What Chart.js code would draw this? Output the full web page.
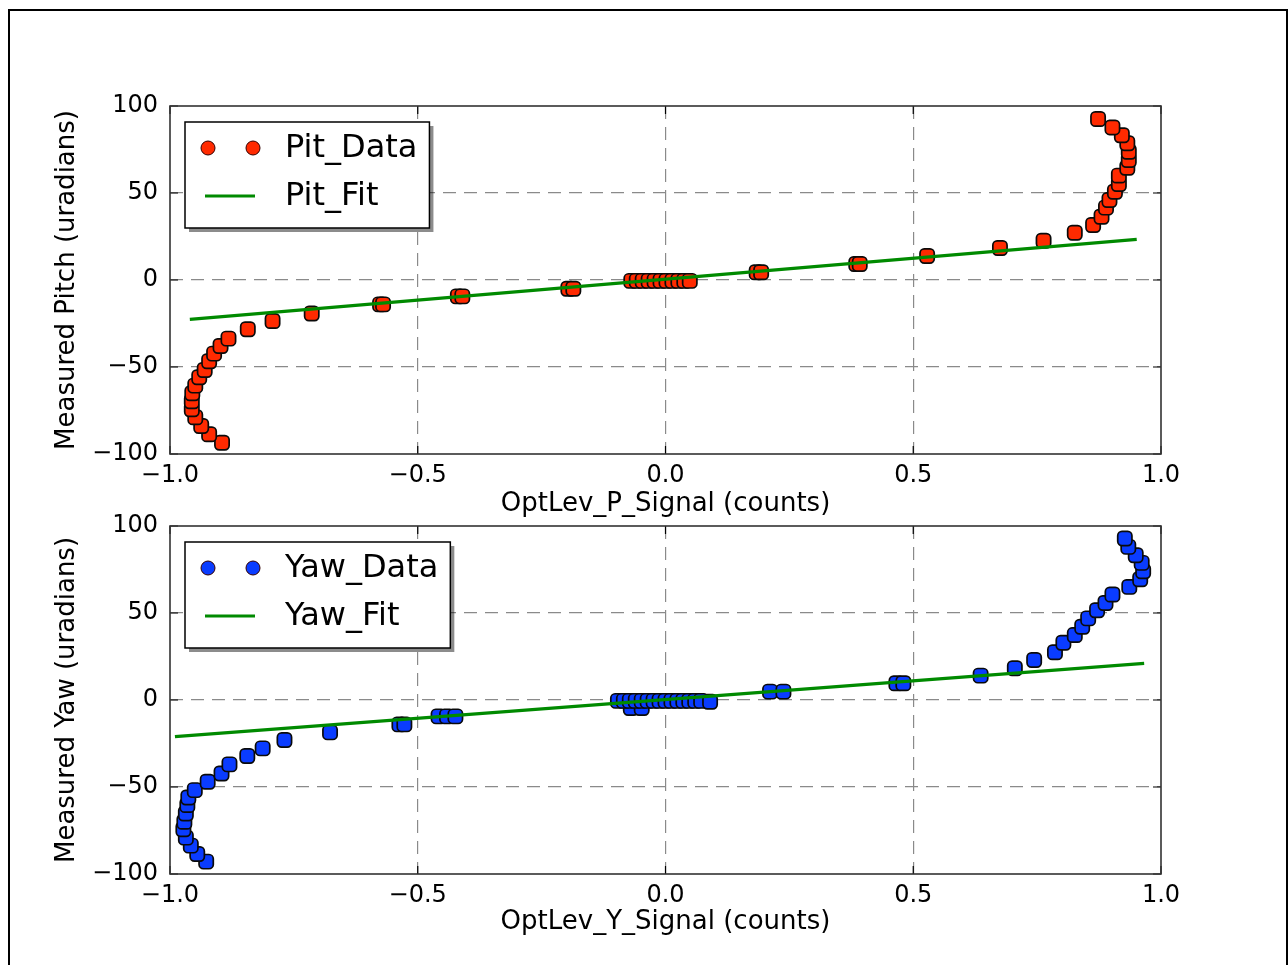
<!DOCTYPE html>
<html>
<head>
<meta charset="utf-8">
<script src="https://cdn.jsdelivr.net/npm/chart.js@4.4.1/dist/chart.umd.min.js"></script>
<style>
  html, body { margin: 0; padding: 0; background: #fff; width: 1288px; height: 965px; overflow: hidden; }
  #frame { position: absolute; left: 8px; top: 9px; width: 1276px; height: 1000px; border: 2px solid #000; }
  canvas { position: absolute; left: 0; }
  #c1 { top: 0px; }
  #c2 { top: 460px; }
</style>
</head>
<body>
<div id="frame"></div>
<canvas id="c1" width="1288" height="520"></canvas>
<canvas id="c2" width="1288" height="505"></canvas>
<script>
// ---------- data ----------
const pitX = [-0.895, -0.921, -0.937, -0.949, -0.956, -0.956, -0.955, -0.949, -0.941, -0.930, -0.921, -0.911, -0.898, -0.882, -0.843, -0.793, -0.714, -0.576, -0.570, -0.419, -0.410, -0.196, -0.186,
  -0.069, -0.058, -0.046, -0.034, -0.022, -0.010, 0.002, 0.014, 0.026, 0.038, 0.049,
  0.184, 0.193, 0.385, 0.392, 0.528, 0.675, 0.763, 0.826, 0.863, 0.880, 0.889, 0.896, 0.907, 0.915, 0.915, 0.932, 0.935, 0.935, 0.932, 0.921, 0.902, 0.873];
const pitY = [-93.5, -88.7, -83.9, -78.9, -74.3, -69.7, -65.1, -60.7, -55.9, -51.7, -46.7, -42.3, -37.9, -33.7, -28.3, -23.6, -19.2, -14.0, -14.0, -9.4, -9.4, -5.0, -5.0,
  -0.5, -0.5, -0.5, -0.5, -0.5, -0.5, -0.5, -0.5, -0.5, -0.5, -0.5,
  4.4, 4.4, 9.2, 9.2, 13.8, 18.4, 22.6, 27.2, 31.6, 36.4, 41.6, 46.0, 50.7, 55.2, 60.0, 64.5, 69.0, 73.7, 78.6, 83.2, 87.7, 92.5];

const yawX = [-0.927, -0.945, -0.958, -0.968, -0.973, -0.971, -0.968, -0.965, -0.963, -0.950, -0.924, -0.896, -0.880, -0.844, -0.813, -0.769, -0.677, -0.537, -0.527, -0.458, -0.441, -0.424,
  -0.070, -0.048,
  -0.096, -0.084, -0.072, -0.060, -0.048, -0.036, -0.024, -0.012, 0.000, 0.012, 0.024, 0.036, 0.048, 0.060, 0.072, 0.090,
  0.211, 0.238, 0.466, 0.480, 0.636, 0.705, 0.744, 0.786, 0.803, 0.826, 0.841, 0.853, 0.871, 0.888, 0.902, 0.936, 0.958, 0.964, 0.961, 0.949, 0.934, 0.927];
const yawY = [-92.9, -88.5, -83.7, -79.1, -74.3, -70.0, -65.2, -60.4, -56.0, -51.8, -47.0, -42.2, -37.0, -32.2, -27.8, -23.0, -18.6, -14.0, -14.0, -9.4, -9.4, -9.4,
  -4.6, -4.6,
  -0.5, -0.5, -0.5, -0.5, -0.5, -0.5, -0.5, -0.5, -0.5, -0.5, -0.5, -0.5, -0.5, -0.5, -0.5, -1.0,
  4.8, 4.8, 9.6, 9.6, 14.0, 18.2, 23.0, 27.4, 32.9, 37.3, 42.1, 46.9, 51.6, 55.8, 60.6, 65.0, 69.4, 74.0, 78.8, 83.2, 88.0, 92.8];

const pitFitX = [-0.96, 0.951];
const pitFitY = [-22.6, 23.3];
const yawFitX = [-0.99, 0.966];
const yawFitY = [-21.1, 21.0];

const xTicks = [-1.0, -0.5, 0.0, 0.5, 1.0];
const yTicks = [-100, -50, 0, 50, 100];

const xTitles = ['OptLev_P_Signal (counts)', 'OptLev_Y_Signal (counts)'];
const yTitles = ['Measured Pitch (uradians)', 'Measured Yaw (uradians)'];
const dataLabels = ['Pit_Data', 'Yaw_Data'];
const fitLabels = ['Pit_Fit', 'Yaw_Fit'];

// ---------- styling ----------
const FONT = '"DejaVu Sans", "Liberation Sans", sans-serif';
const RED = '#ff2a00';
const BLUE = '#0a3cff';
const GREEN = '#008a00';
const GRID = '#8a8a8a';

function pts(xs, ys) { return xs.map((x, i) => ({ x: x, y: ys[i] })); }
function fmtX(v) { return (v < 0 ? '\u2212' : '') + Math.abs(v).toFixed(1); }
function fmtY(v) { return (v < 0 ? '\u2212' : '') + Math.abs(v).toFixed(0); }

const framePlugin = {
  id: 'frameTicks',
  afterDatasetsDraw(chart) {
    const ctx = chart.ctx, a = chart.chartArea;
    const xs = chart.scales.x, ys = chart.scales.y;
    ctx.save();
    ctx.strokeStyle = '#000';
    ctx.lineWidth = 1.2;
    const L = 8;
    ctx.beginPath();
    xTicks.forEach(v => {
      const px = xs.getPixelForValue(v);
      ctx.moveTo(px, a.bottom); ctx.lineTo(px, a.bottom - L);
      ctx.moveTo(px, a.top); ctx.lineTo(px, a.top + L);
    });
    yTicks.forEach(v => {
      const py = ys.getPixelForValue(v);
      ctx.moveTo(a.left, py); ctx.lineTo(a.left + L, py);
      ctx.moveTo(a.right, py); ctx.lineTo(a.right - L, py);
    });
    ctx.stroke();
    ctx.strokeStyle = '#333';
    ctx.lineWidth = 1.6;
    ctx.strokeRect(a.left, a.top, a.right - a.left, a.bottom - a.top);
    ctx.restore();
  }
};

const legendPlugin = {
  id: 'boxLegend',
  afterDraw(chart) {
    const ctx = chart.ctx, a = chart.chartArea;
    const ds = chart.data.datasets;
    const dataSet = ds.find(d => !d.showLine);
    const fitSet = ds.find(d => d.showLine);
    ctx.save();
    ctx.font = '32px ' + FONT;
    const textX = a.left + 115;
    const w = Math.max(ctx.measureText(dataSet.label).width, ctx.measureText(fitSet.label).width);
    const bx = a.left + 15, by = a.top + 16;
    const bw = textX + w + 12 - bx, bh = 106;
    ctx.fillStyle = 'rgba(0,0,0,0.45)';
    ctx.fillRect(bx + 4, by + 4, bw, bh);
    ctx.fillStyle = '#fff';
    ctx.fillRect(bx, by, bw, bh);
    ctx.strokeStyle = '#000';
    ctx.lineWidth = 1.5;
    ctx.strokeRect(bx, by, bw, bh);
    const r1 = a.top + 42, r2 = a.top + 90;
    [a.left + 38, a.left + 83].forEach(cx => {
      ctx.beginPath();
      ctx.arc(cx, r1, 7, 0, Math.PI * 2);
      ctx.fillStyle = dataSet.backgroundColor;
      ctx.fill();
      ctx.lineWidth = 1;
      ctx.strokeStyle = '#300';
      ctx.stroke();
    });
    ctx.beginPath();
    ctx.moveTo(a.left + 35, r2);
    ctx.lineTo(a.left + 85, r2);
    ctx.strokeStyle = fitSet.borderColor;
    ctx.lineWidth = 3;
    ctx.stroke();
    ctx.fillStyle = '#000';
    ctx.textBaseline = 'middle';
    ctx.textAlign = 'left';
    ctx.fillText(dataSet.label, textX, r1 + 1);
    ctx.fillText(fitSet.label, textX, r2 + 1);
    ctx.restore();
  }
};

function makeChart(id, idx, xs, ys, fx, fy, color, cfg) {
  const edgeX = v => v === xTicks[0] || v === xTicks[xTicks.length - 1];
  const edgeY = v => v === yTicks[0] || v === yTicks[yTicks.length - 1];
  return new Chart(document.getElementById(id), {
    type: 'scatter',
    data: {
      datasets: [
        {
          label: fitLabels[idx],
          data: pts(fx, fy),
          showLine: true,
          borderColor: GREEN,
          backgroundColor: GREEN,
          borderWidth: 3.2,
          pointRadius: 0,
          order: 0
        },
        {
          label: dataLabels[idx],
          data: pts(xs, ys),
          showLine: false,
          pointStyle: 'rectRounded',
          pointRadius: 8.3,
          backgroundColor: color,
          borderColor: '#0a0a0a',
          borderWidth: 1.7,
          order: 1
        }
      ]
    },
    options: {
      responsive: false,
      animation: false,
      events: [],
      layout: { padding: { left: 0, right: 127, top: cfg.padTop, bottom: 0 } },
      plugins: { legend: { display: false }, tooltip: { enabled: false } },
      scales: {
        x: {
          type: 'linear', min: -1, max: 1,
          afterBuildTicks: s => { s.ticks = xTicks.map(v => ({ value: v })); },
          afterFit: s => { s.height = cfg.xH; },
          border: { display: false, dash: [13, 8] },
          grid: {
            drawTicks: false,
            color: c => (c.tick && edgeX(c.tick.value)) ? 'rgba(0,0,0,0)' : GRID,
            lineWidth: 1.2
          },
          ticks: {
            padding: 7,
            color: '#000',
            font: { family: FONT, size: 24 },
            callback: v => fmtX(v),
            maxRotation: 0, autoSkip: false
          },
          title: {
            display: true, text: xTitles[idx], color: '#000',
            font: { family: FONT, size: 26 },
            padding: { top: 0, bottom: cfg.xTitlePad }
          }
        },
        y: {
          type: 'linear', min: -100, max: 100,
          afterBuildTicks: s => { s.ticks = yTicks.map(v => ({ value: v })); },
          afterFit: s => { s.width = 170; },
          border: { display: false, dash: [13, 8] },
          grid: {
            drawTicks: false,
            color: c => (c.tick && edgeY(c.tick.value)) ? 'rgba(0,0,0,0)' : GRID,
            lineWidth: 1.2
          },
          ticks: {
            padding: 12,
            color: '#000',
            font: { family: FONT, size: 24 },
            callback: v => fmtY(v),
            autoSkip: false
          },
          title: {
            display: true, text: yTitles[idx], color: '#000',
            font: { family: FONT, size: 26 },
            padding: { top: 52, bottom: 0 }
          }
        }
      }
    },
    plugins: [framePlugin, legendPlugin]
  });
}

const ch1 = makeChart('c1', 0, pitX, pitY, pitFitX, pitFitY, RED, { padTop: 106, xH: 66, xTitlePad: 0 });
const ch2 = makeChart('c2', 1, yawX, yawY, yawFitX, yawFitY, BLUE, { padTop: 66, xH: 91, xTitlePad: 27 });
</script>
</body>
</html>
